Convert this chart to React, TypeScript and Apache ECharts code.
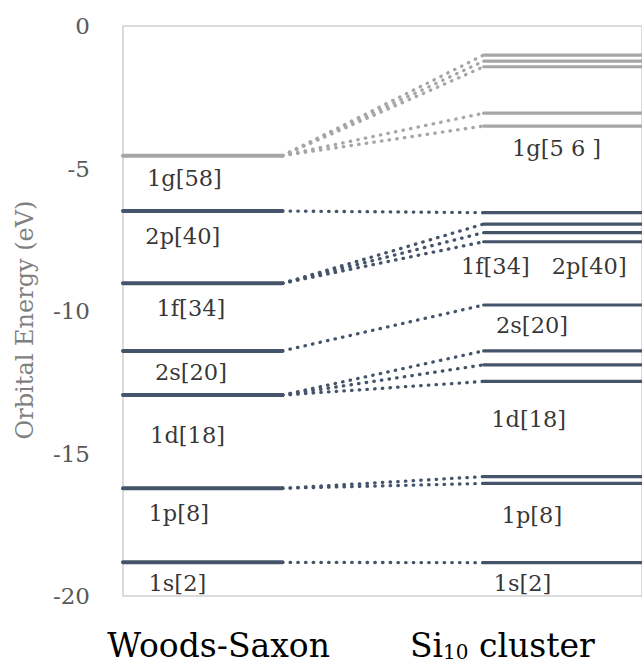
import React, { useEffect, useRef } from "react";
import * as echarts from "echarts";

// ---- data ----
const wsShells = ["1g", "2p", "1f", "2s", "1d", "1p", "1s"];
const wsLevels = [-4.55, -6.49, -9.03, -11.4, -12.95, -16.22, -18.82];
const wsLabels = ["1g[58]", "2p[40]", "1f[34]", "2s[20]", "1d[18]", "1p[8]", "1s[2]"];

const si1g = [-1.02, -1.23, -1.43, -3.06, -3.51];
const si2p = [-6.55];
const si1f = [-6.95, -7.25, -7.57];
const si2s = [-9.79];
const si1d = [-11.4, -11.89, -12.47];
const si1p = [-15.81, -16.05];
const si1s = [-18.83];
const siGroups = [si1g, si2p, si1f, si2s, si1d, si1p, si1s];
const siLabels = ["1g[5 6 ]", "1f[34]", "2p[40]", "2s[20]", "1d[18]", "1p[8]", "1s[2]"];

const columns = ["Woods-Saxon", "Si10 cluster"];

// ---- layout (data-space anchors) ----
const X_LEFT = [0, 1];
const X_RIGHT = [2.2625, 3.3];
const X_MAX = 3.256;
const wsLabelAnchor = [
  [0.15, -5.33], [0.14, -7.37], [0.21, -9.89], [0.2, -12.14],
  [0.17, -14.35], [0.16, -17.09], [0.16, -19.54],
];
const siLabelAnchor = [
  [2.44, -4.28], [2.12, -8.42], [2.69, -8.42], [2.34, -10.49],
  [2.31, -13.79], [2.375, -17.16], [2.325, -19.54],
];
const columnCenters = [0.6, 2.38];

const DARK = "#44546a";
const GREY = "#a6a6a6";
const FONT = "DejaVu Serif";

function buildOption() {
  const series: any[] = [];
  // connectors (drawn first, beneath)
  wsLevels.forEach((e, i) => {
    const color = wsShells[i] === "1g" ? GREY : DARK;
    siGroups[i].forEach((t) => {
      series.push({
        type: "line",
        data: [[X_LEFT[1], e], [X_RIGHT[0], t]],
        symbol: "none",
        silent: true,
        z: 1,
        lineStyle: { color, width: 3.3, type: [0.5, 7.2], cap: "round" },
      });
    });
  });
  // Woods-Saxon levels
  wsLevels.forEach((e, i) => {
    const color = wsShells[i] === "1g" ? GREY : DARK;
    series.push({
      type: "line",
      data: [[X_LEFT[0], e], [X_LEFT[1], e]],
      symbol: "none",
      silent: true,
      z: 3,
      lineStyle: { color, width: 4, cap: "round" },
    });
  });
  // cluster levels
  siGroups.forEach((g, i) => {
    const color = wsShells[i] === "1g" ? GREY : DARK;
    g.forEach((t) => {
      series.push({
        type: "line",
        data: [[X_RIGHT[0], t], [X_RIGHT[1], t]],
        symbol: "none",
        silent: true,
        z: 3,
        lineStyle: { color, width: 3.2, cap: "round" },
      });
    });
  });
  // labels
  const labelData = [
    ...wsLabels.map((s, i) => [wsLabelAnchor[i][0], wsLabelAnchor[i][1], s]),
    ...siLabels.map((s, i) => [siLabelAnchor[i][0], siLabelAnchor[i][1], s]),
  ];
  series.push({
    type: "scatter",
    data: labelData,
    symbolSize: 0,
    silent: true,
    z: 5,
    label: {
      show: true,
      position: "right",
      distance: 0,
      formatter: (p: any) => p.value[2],
      color: "#000",
      fontSize: 22.5,
      fontFamily: FONT,
      align: "left",
      verticalAlign: "middle",
    },
  });

  return {
    animation: false,
    backgroundColor: "#fff",
    grid: {
      left: 123,
      right: -2,
      top: 26,
      bottom: 68,
      show: true,
      borderColor: "#d0d0d0",
      borderWidth: 1.5,
      backgroundColor: "transparent",
    },
    xAxis: {
      type: "value",
      min: 0,
      max: X_MAX,
      axisLine: { show: false },
      axisTick: { show: false },
      splitLine: { show: false },
      axisLabel: {
        customValues: columnCenters,
        margin: 33,
        formatter: (v: number) => {
          const idx = columnCenters.findIndex((c) => Math.abs(c - v) < 1e-6);
          if (idx === 0) return "{a|" + columns[0] + "}";
          if (idx === 1) return "{a|Si}{b|10}{a| cluster}";
          return "";
        },
        rich: {
          a: { fontSize: 33, fontFamily: FONT, color: "#000", verticalAlign: "bottom" },
          b: { fontSize: 20, fontFamily: FONT, color: "#000", verticalAlign: "bottom" },
        },
      },
    },
    yAxis: {
      type: "value",
      min: -20,
      max: 0,
      interval: 5,
      axisLine: { show: false },
      axisTick: { show: false },
      splitLine: { show: false },
      axisLabel: { fontSize: 23, fontFamily: FONT, color: "#595959", margin: 33 },
      name: "Orbital Energy (eV)",
      nameLocation: "middle",
      nameGap: 86,
      nameTextStyle: { fontSize: 24, fontFamily: FONT, color: "#7f7f7f", padding: [0, 18, 0, 0] },
    },
    series,
  };
}

export default function App() {
  const ref = useRef<HTMLDivElement>(null);
  useEffect(() => {
    if (!ref.current) return;
    const chart = echarts.init(ref.current, null, { renderer: "svg" });
    chart.setOption(buildOption() as any);
    return () => chart.dispose();
  }, []);
  return (
    <div
      ref={ref}
      style={{ position: "fixed", left: 0, top: 0, width: 642, height: 664, background: "#fff" }}
    />
  );
}
